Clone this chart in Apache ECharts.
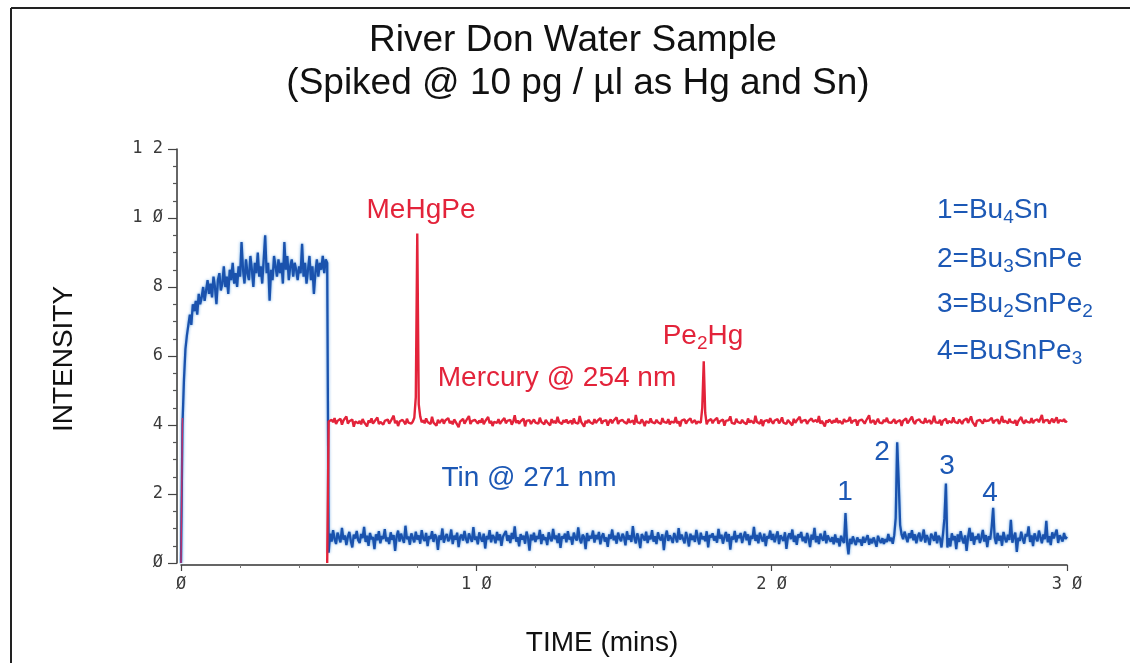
<!DOCTYPE html>
<html>
<head>
<meta charset="utf-8">
<script src="https://cdn.jsdelivr.net/npm/echarts@6/dist/echarts.min.js"></script>
<style>
  html, body { margin: 0; padding: 0; background: #ffffff; }
  #chart { width: 1130px; height: 663px; }
</style>
</head>
<body>
<div id="chart"></div>
<script>
// Tin channel (271 nm): one reading every 0.05 min from t = 0 to 30 min.
const TIN_T0 = 0;
const TIN_DT = 0.05;
const tinIntensity = [
  // 0.0 - 4.95 min : solvent front
  0, 4.0, 5.3, 6.2, 6.6, 6.9, 7.2, 6.9, 7.5, 7.3, 7.6, 7.2, 7.8, 7.5, 7.7, 8.0, 7.6, 7.9, 8.2, 7.8,
  8.1, 7.7, 8.3, 8.0, 7.5, 8.2, 8.4, 7.9, 8.1, 8.6, 8.0, 8.3, 7.8, 8.5, 8.2, 8.7, 8.1, 8.4, 8.0, 8.6,
  8.3, 9.3, 8.5, 8.1, 8.8, 8.4, 8.2, 8.9, 8.5, 8.0, 8.7, 8.4, 9.0, 8.3, 8.6, 8.1, 8.8, 9.5, 8.4, 8.7,
  7.6, 8.5, 8.2, 8.9, 8.6, 8.3, 8.8, 8.4, 8.7, 8.1, 9.3, 8.5, 8.9, 8.2, 8.6, 8.8, 8.3, 8.7, 8.5, 8.2,
  8.6, 8.4, 9.25, 8.3, 8.7, 8.1, 8.5, 8.9, 8.2, 8.6, 7.8, 8.4, 8.8, 8.3, 8.7, 8.5, 8.9, 8.4, 8.8, 8.7,
  // 5.0 - 30.0 min : baseline and butyl/phenyl tin peaks
  0.30, 0.85, 0.62, 0.95, 0.70, 0.55, 0.88, 0.74, 0.60, 1.02, 0.68, 0.80, 0.52, 0.76, 0.90, 0.64, 0.45, 0.82, 0.71, 0.93,
  0.66, 0.58, 0.84, 0.72, 1.05, 0.61, 0.79, 0.50, 0.87, 0.69, 0.75, 0.40, 0.83, 0.66, 0.92, 0.57, 0.78, 0.70, 0.98, 0.63,
  0.74, 0.55, 0.89, 0.67, 0.81, 0.35, 0.76, 0.94, 0.62, 0.85, 0.71, 0.58, 1.08, 0.69, 0.77, 0.53, 0.86, 0.73, 0.60, 0.91,
  0.68, 0.80, 0.56, 0.95, 0.72, 0.64, 0.87, 0.49, 0.78, 0.70, 0.92, 0.61, 0.83, 0.74, 0.38, 0.80, 0.67, 1.00, 0.59, 0.76,
  0.84, 0.63, 0.71, 0.97, 0.55, 0.79, 0.68, 0.88, 0.46, 0.75, 0.82, 0.65, 0.93, 0.70, 0.58, 0.86, 0.73, 0.61, 1.04, 0.67,
  0.77, 0.54, 0.89, 0.72, 0.62, 0.85, 0.42, 0.78, 0.69, 0.95, 0.60, 0.81, 0.74, 0.57, 0.90, 0.66, 0.83, 0.50, 0.76, 0.71,
  0.93, 0.64, 0.80, 0.58, 0.87, 0.70, 1.06, 0.62, 0.75, 0.48, 0.84, 0.68, 0.79, 0.56, 0.91, 0.73, 0.36, 0.82, 0.66, 0.88,
  0.61, 0.78, 0.70, 0.96, 0.55, 0.83, 0.67, 0.74, 0.52, 0.89, 0.72, 0.63, 0.99, 0.69, 0.80, 0.58, 0.86, 0.44, 0.77, 0.71,
  0.85, 0.60, 0.92, 0.68, 0.76, 0.53, 0.88, 0.73, 0.65, 1.03, 0.70, 0.57, 0.82, 0.75, 0.40, 0.87, 0.64, 0.79, 0.71, 0.94,
  0.59, 0.81, 0.69, 0.90, 0.54, 0.77, 0.86, 0.62, 0.74, 0.47, 0.83, 0.70, 0.97, 0.66, 0.79, 0.56, 0.88, 0.72, 0.63, 0.85,
  0.75, 0.51, 0.92, 0.68, 0.80, 0.61, 1.07, 0.73, 0.57, 0.86, 0.70, 0.43, 0.84, 0.76, 0.65, 0.91, 0.58, 0.79, 0.69, 0.95,
  0.62, 0.78, 0.55, 0.89, 0.72, 0.66, 0.83, 0.37, 0.76, 0.94, 0.64, 0.80, 0.71, 0.58, 0.87, 0.74, 0.60, 1.01, 0.68, 0.82,
  0.70, 0.57, 0.90, 0.73, 0.48, 0.85, 0.67, 0.79, 0.61, 0.96, 0.72, 0.54, 0.88, 0.69, 0.77, 0.63, 0.92, 0.45, 0.81, 0.74,
  0.86, 0.65, 0.78, 0.59, 0.99, 0.71, 0.82, 0.56, 0.75, 0.90, 0.62, 0.84, 0.39, 0.77, 0.68, 0.93, 0.60, 0.80, 0.73, 0.87,
  0.58, 0.76, 0.91, 0.66, 0.83, 0.52, 0.79, 0.70, 1.05, 0.64, 0.81, 0.57, 0.88, 0.73, 0.62, 0.85, 0.49, 0.78, 0.71, 0.94,
  0.67, 0.84, 0.60, 0.77, 0.92, 0.55, 0.80, 0.72, 0.64, 0.89, 0.41, 0.75, 0.86, 0.69, 0.97, 0.61, 0.79, 0.53, 0.83, 0.74,
  0.90, 0.63, 0.76, 0.58, 0.87, 0.71, 0.46, 0.82, 0.68, 1.02, 0.60, 0.78, 0.55, 0.85, 0.72, 0.65, 0.93, 0.57, 0.80, 0.69,
  0.62, 0.75, 0.54, 0.83, 0.60, 0.71, 0.48, 0.79, 0.66, 0.58, 1.45, 0.62, 0.25, 0.70, 0.55, 0.77, 0.63, 0.52, 0.74, 0.61,
  0.68, 0.50, 0.76, 0.59, 0.64, 0.81, 0.53, 0.70, 0.57, 0.74, 0.62, 0.47, 0.79, 0.66, 0.58, 0.72, 0.55, 0.69, 0.61, 0.84,
  0.64, 0.73, 0.56, 0.80, 1.30, 3.50, 2.40, 1.10, 0.82, 0.69, 0.91, 0.75, 0.60, 0.86, 0.72, 0.95, 0.66, 0.83, 0.57, 0.78,
  0.88, 0.63, 0.74, 0.97, 0.59, 0.81, 0.70, 0.52, 0.85, 0.76, 0.64, 0.90, 0.57, 0.79, 0.71, 0.45, 0.83, 1.30, 2.30, 0.45,
  0.72, 0.48, 0.86, 0.66, 0.78, 0.40, 0.83, 0.61, 0.92, 0.70, 0.57, 0.80, 0.35, 0.75, 1.02, 0.64, 0.88, 0.53, 0.77, 0.69,
  0.85, 0.58, 0.73, 0.96, 0.62, 0.81, 0.46, 0.78, 0.68, 1.05, 1.60, 0.74, 0.55, 0.87, 0.65, 0.79, 0.50, 0.90, 0.71, 0.60,
  0.82, 0.67, 1.25, 0.59, 0.76, 0.88, 0.32, 0.73, 0.64, 0.91, 0.70, 0.56, 0.84, 0.77, 1.06, 0.61, 0.80, 0.49, 0.86, 0.72,
  0.63, 0.94, 0.75, 0.57, 0.83, 0.69, 1.22, 0.60, 0.78, 0.52, 0.89, 0.71, 0.66, 0.97, 0.58, 0.80, 0.73, 0.62, 0.87, 0.70,
  0.76
];

// Mercury channel (254 nm): brief trace at injection, then readings every 0.05 min from 4.95 to 30 min.
const HG_LEAD_T0 = 0;
const mercuryLeadIn = [0, 4.2];
const HG_T0 = 4.95;
const HG_DT = 0.05;
const mercuryIntensity = [
  0,
  4.10, 4.05, 4.15, 4.08, 4.20, 4.03, 4.12, 4.07, 4.18, 4.01, 4.13, 4.09, 4.25, 4.04, 4.11, 4.06, 4.16, 3.95, 4.10, 4.14,
  4.05, 4.12, 4.02, 4.17, 4.08, 4.11, 3.96, 4.13, 4.07, 4.19, 4.04, 4.10, 4.06, 4.22, 4.03, 4.09, 4.14, 4.01, 4.12, 4.07,
  4.16, 4.04, 4.11, 4.08, 4.27, 4.05, 4.13, 3.97, 4.10, 4.06, 4.15, 4.09, 4.02, 4.18, 4.07, 4.12, 4.04, 4.10, 4.21, 4.80,
  9.55, 4.60, 4.25, 4.08, 4.14, 4.05, 4.19, 4.09, 4.12, 4.03, 4.24, 4.07, 4.11, 3.98, 4.15, 4.06, 4.10, 4.17, 4.04, 4.13,
  4.08, 4.20, 4.05, 4.11, 4.02, 4.16, 4.09, 4.13, 3.94, 4.10, 4.07, 4.18, 4.04, 4.12, 4.08, 4.26, 4.03, 4.11, 4.06, 4.15,
  4.10, 4.04, 4.13, 4.07, 4.19, 4.02, 4.11, 4.08, 4.23, 4.05, 4.12, 3.97, 4.09, 4.14, 4.06, 4.17, 4.03, 4.10, 4.07, 4.20,
  4.05, 4.12, 4.08, 4.15, 4.01, 4.10, 4.28, 4.06, 4.13, 4.04, 4.11, 4.09, 4.18, 3.96, 4.12, 4.07, 4.14, 4.03, 4.10, 4.16,
  4.07, 4.11, 4.04, 4.21, 4.09, 4.13, 4.02, 4.15, 4.08, 4.10, 3.99, 4.17, 4.06, 4.12, 4.05, 4.24, 4.09, 4.11, 4.03, 4.14,
  4.08, 4.16, 4.05, 4.10, 4.13, 4.02, 4.19, 4.07, 4.11, 4.04, 4.26, 4.09, 4.14, 3.95, 4.12, 4.06, 4.15, 4.08, 4.10, 4.03,
  4.17, 4.06, 4.12, 4.09, 4.20, 4.04, 4.11, 4.07, 4.14, 3.98, 4.10, 4.16, 4.05, 4.13, 4.08, 4.22, 4.03, 4.11, 4.06, 4.15,
  4.09, 4.12, 4.04, 4.18, 4.07, 4.10, 4.13, 4.01, 4.29, 4.08, 4.12, 4.05, 4.16, 4.09, 3.97, 4.11, 4.14, 4.06, 4.19, 4.08,
  4.11, 4.05, 4.15, 4.08, 4.12, 4.03, 4.20, 4.09, 4.13, 4.06, 4.17, 4.02, 4.10, 4.14, 4.07, 4.23, 4.05, 4.11, 3.96, 4.13,
  4.08, 4.16, 4.04, 4.12, 4.09, 4.19, 4.06, 4.11, 4.14, 4.03, 4.10, 4.15, 4.07, 4.50, 5.85, 4.35, 4.02, 4.12, 4.08, 4.17,
  4.05, 4.13, 4.09, 4.21, 4.04, 4.11, 4.07, 4.16, 3.98, 4.12, 4.08, 4.14, 4.25, 4.06, 4.10, 4.03, 4.18, 4.09, 4.12, 4.05,
  4.15, 4.08, 4.11, 4.02, 4.19, 4.07, 4.13, 4.10, 4.05, 4.27, 4.09, 4.12, 4.04, 4.16, 3.97, 4.11, 4.08, 4.14, 4.06, 4.20,
  4.10, 4.04, 4.13, 4.08, 4.17, 4.05, 4.11, 4.22, 4.07, 4.12, 4.03, 4.15, 4.09, 4.10, 3.99, 4.18, 4.06, 4.13, 4.08, 4.24,
  4.06, 4.12, 4.09, 4.15, 4.03, 4.11, 4.07, 4.19, 4.10, 4.05, 4.14, 4.08, 4.26, 4.04, 4.12, 4.09, 3.96, 4.13, 4.07, 4.16,
  4.11, 4.05, 4.14, 4.08, 4.20, 4.06, 4.12, 4.09, 4.03, 4.17, 4.10, 4.07, 4.13, 4.23, 4.05, 4.11, 4.08, 4.15, 3.98, 4.12,
  4.07, 4.16, 4.10, 4.04, 4.13, 4.09, 4.28, 4.06, 4.11, 4.14, 4.02, 4.10, 4.18, 4.07, 4.12, 4.05, 4.15, 4.09, 4.21, 4.08,
  4.13, 4.06, 4.11, 4.17, 4.04, 4.10, 4.08, 4.14, 3.97, 4.12, 4.09, 4.19, 4.05, 4.11, 4.07, 4.24, 4.10, 4.03, 4.13, 4.08,
  4.16, 4.09, 4.12, 4.05, 4.20, 4.07, 4.11, 4.14, 4.03, 4.10, 4.27, 4.08, 4.13, 4.06, 4.15, 3.99, 4.12, 4.09, 4.18, 4.04,
  4.11, 4.14, 4.07, 4.22, 4.09, 4.12, 4.05, 4.16, 4.10, 4.03, 4.13, 4.08, 4.19, 4.06, 4.11, 4.25, 4.09, 4.14, 3.96, 4.12,
  4.08, 4.15, 4.10, 4.04, 4.17, 4.11, 4.06, 4.13, 4.09, 4.21, 4.05, 4.12, 4.08, 4.16, 4.03, 4.11, 4.26, 4.07, 4.13, 4.10,
  4.05, 4.18, 4.09, 4.12, 4.06, 4.14, 3.98, 4.11, 4.08, 4.23, 4.10, 4.04, 4.15, 4.09, 4.12, 4.07, 4.20, 4.05, 4.13, 4.10,
  4.16, 4.08, 4.11, 4.29, 4.06, 4.13, 4.09, 4.15, 4.04, 4.12, 4.18, 4.07, 4.10, 4.22, 4.05, 4.14, 4.09, 4.11, 4.17, 4.08,
  4.12
];

// Axis ranges and tick steps
const timeRange = [0, 30];
const timeTickStep = 10;
const intensityRange = [0, 12];
const intensityTickStep = 2;

// Text
const titleLines = ['River Don Water Sample', '(Spiked @ 10 pg / \u00b5l as Hg and Sn)'];
const xAxisTitle = 'TIME (mins)';
const yAxisTitle = 'INTENSITY';
const peakKey = ['1=Bu{s|4}Sn', '2=Bu{s|3}SnPe', '3=Bu{s|2}SnPe{s|2}', '4=BuSnPe{s|3}'];

const RED = '#e3233a';
const BLUE = '#1c58b5';
const TRACE_BLUE = '#1a52ad';
const TEXT_FONT = '"Liberation Sans", Arial, sans-serif';

function toPairs(t0, dt, values) {
  return values.map((v, i) => [+(t0 + i * dt).toFixed(2), v]);
}

// Plotter-style tick labels: slashed zero, wide spacing
function plotterLabel(v) {
  return String(v).replace(/0/g, '\u00d8').split('').join(' ');
}

const chart = echarts.init(document.getElementById('chart'), null, { renderer: 'canvas' });

const subStyle = { fontSize: 19, padding: [15, 0, 0, 0], fontFamily: TEXT_FONT };

function label(text, x, y, fill, opts) {
  return Object.assign({
    type: 'text', x: x, y: y, silent: true, z: 10,
    style: Object.assign({
      text: text, fill: fill, fontSize: 28, fontFamily: TEXT_FONT,
      textAlign: 'center', textVerticalAlign: 'middle',
      rich: { s: Object.assign({ fill: fill }, subStyle) }
    }, (opts && opts.style) || {})
  }, (opts && opts.el) || {});
}

const graphics = [
  // frame
  { type: 'line', shape: { x1: 11, y1: 8, x2: 11, y2: 663 }, style: { stroke: '#222', lineWidth: 2 } },
  { type: 'line', shape: { x1: 11, y1: 8, x2: 1130, y2: 8 }, style: { stroke: '#222', lineWidth: 2 } },
  // titles
  label(titleLines[0], 573, 41, '#111', { style: { fontSize: 37 } }),
  label(titleLines[1], 578, 84, '#111', { style: { fontSize: 37 } }),
  label(xAxisTitle, 602, 643, '#111', { style: { fontSize: 28 } }),
  label(yAxisTitle, 64, 359, '#111', { style: { fontSize: 28 }, el: { rotation: Math.PI / 2 } }),
  // trace names and peak names
  label('MeHgPe', 421, 210, RED),
  label('Pe{s|2}Hg', 703, 336, RED),
  label('Mercury @ 254 nm', 557, 378, RED),
  label('Tin @ 271 nm', 529, 478, BLUE),
  label('1', 845, 492, BLUE),
  label('2', 882, 452, BLUE),
  label('3', 947, 466, BLUE),
  label('4', 990, 493, BLUE)
];
const keyY = [210, 259, 304, 351];
peakKey.forEach((t, i) => {
  graphics.push(label(t, 937, keyY[i], BLUE, { style: { textAlign: 'left' } }));
});

const axisLabelStyle = {
  fontFamily: '"DejaVu Sans Mono", monospace',
  fontSize: 17,
  color: '#3a3a3a',
  formatter: plotterLabel
};

const option = {
  animation: false,
  backgroundColor: '#ffffff',
  grid: { left: 181, right: 63, top: 149, bottom: 100, containLabel: false },
  xAxis: {
    type: 'value',
    min: timeRange[0], max: timeRange[1], interval: timeTickStep,
    offset: 2,
    axisLine: { show: true, onZero: false, lineStyle: { color: '#333', width: 1.5 } },
    axisTick: { show: true, length: 6, lineStyle: { color: '#444', width: 1.2 } },
    minorTick: { show: true, splitNumber: 5, length: 3, lineStyle: { color: '#777', width: 1 } },
    splitLine: { show: false },
    axisLabel: Object.assign({ margin: 11 }, axisLabelStyle)
  },
  yAxis: {
    type: 'value',
    min: intensityRange[0], max: intensityRange[1], interval: intensityTickStep,
    offset: 4,
    axisLine: { show: true, onZero: false, lineStyle: { color: '#333', width: 1.5 } },
    axisTick: { show: true, length: 9, lineStyle: { color: '#444', width: 1.2 } },
    minorTick: { show: true, splitNumber: 4, length: 4, lineStyle: { color: '#555', width: 1.2 } },
    splitLine: { show: false },
    axisLabel: Object.assign({ margin: 14 }, axisLabelStyle)
  },
  series: [
    {
      name: 'Tin @ 271 nm', type: 'line',
      data: toPairs(TIN_T0, TIN_DT, tinIntensity),
      showSymbol: false, symbol: 'none', sampling: null,
      lineStyle: { color: TRACE_BLUE, width: 2.3, shadowColor: 'rgba(60,140,220,0.8)', shadowBlur: 3 }, z: 2
    },
    {
      name: 'Mercury injection', type: 'line',
      data: toPairs(HG_LEAD_T0, HG_DT, mercuryLeadIn),
      showSymbol: false, symbol: 'none',
      lineStyle: { color: '#c0306a', width: 1.4 }, z: 3
    },
    {
      name: 'Mercury @ 254 nm', type: 'line',
      data: toPairs(HG_T0, HG_DT, mercuryIntensity),
      showSymbol: false, symbol: 'none', sampling: null,
      lineStyle: { color: RED, width: 2.4 }, z: 3
    }
  ],
  graphic: graphics
};

chart.setOption(option);
</script>
</body>
</html>
